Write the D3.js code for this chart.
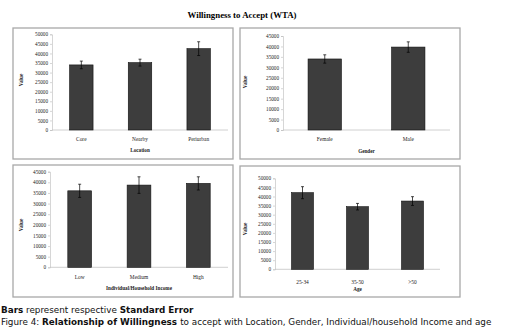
<!DOCTYPE html>
<html><head><meta charset="utf-8">
<script src="https://cdn.jsdelivr.net/npm/d3@7"></script>
<style>body{margin:0;background:#fff}svg{display:block}</style>
</head><body>
<svg id="c" width="505" height="328"></svg>
<script>
// ---- data ----
const locationCats = ["Core", "Nearby", "Periurban"];
const locationVals = [34000, 35200, 42500];
const locationErr = [2000, 1800, 3600];
const locationTicks = [0,5000,10000,15000,20000,25000,30000,35000,40000,45000,50000];

const genderCats = ["Female", "Male"];
const genderVals = [34000, 39700];
const genderErr = [2000, 2500];
const genderTicks = [0,5000,10000,15000,20000,25000,30000,35000,40000,45000];

const incomeCats = ["Low", "Medium", "High"];
const incomeVals = [36000, 38700, 39500];
const incomeErr = [3100, 3900, 3100];
const incomeTicks = [0,5000,10000,15000,20000,25000,30000,35000,40000,45000];

const ageCats = ["25-34", "35-50", ">50"];
const ageVals = [42100, 34400, 37500];
const ageErr = [3300, 1800, 2400];
const ageTicks = [0,5000,10000,15000,20000,25000,30000,35000,40000,45000,50000];

const titleText = "Willingness to Accept (WTA)";
const note1a = "Bars";
const note1 = " represent respective ";
const note1b = "Standard Error";
const note2a = "Figure 4: ";
const note2b = "Relationship of Willingness ";
const note2c = " to accept with Location, Gender, Individual/household  Income and age";

// ---- layout ----
const panels = [
  {cats: locationCats, vals: locationVals, err: locationErr, ticks: locationTicks, xTitle: "Location",
   box: [13, 28, 220, 131], x: [52, 228], y: [130, 34.3], catY: 141, titleY: 152, valX: 23, valY: 80},
  {cats: genderCats, vals: genderVals, err: genderErr, ticks: genderTicks, xTitle: "Gender",
   box: [240, 28, 220, 131], x: [283, 450], y: [130, 36], catY: 141, titleY: 153, valX: 247, valY: 82},
  {cats: incomeCats, vals: incomeVals, err: incomeErr, ticks: incomeTicks, xTitle: "Individual/Household Income",
   box: [13, 165, 220, 132], x: [50, 228], y: [267.3, 171.7], catY: 279, titleY: 290, valX: 23, valY: 225},
  {cats: ageCats, vals: ageVals, err: ageErr, ticks: ageTicks, xTitle: "Age",
   box: [240, 166, 220, 131], x: [275, 440], y: [269.3, 178.3], catY: 284, titleY: 291, valX: 247, valY: 229}
];

const svg = d3.select("#c");
const serif = "'Liberation Serif', 'DejaVu Serif', serif";
const sans = "'DejaVu Sans', Verdana, sans-serif";

svg.append("text").attr("x", 242).attr("y", 18).attr("text-anchor", "middle")
  .attr("font-family", serif).attr("font-weight", "bold").attr("font-size", 8.8).text(titleText);

panels.forEach(p => {
  const g = svg.append("g");
  g.append("rect").attr("x", p.box[0]).attr("y", p.box[1]).attr("width", p.box[2]).attr("height", p.box[3])
    .attr("fill", "#fff").attr("stroke", "#a8a8a8").attr("stroke-width", 1.3);
  const max = p.ticks[p.ticks.length - 1];
  const y = d3.scaleLinear().domain([0, max]).range(p.y);
  const x = d3.scalePoint().domain(p.cats).range(p.x).padding(0.5);
  const bw = x.step() * 0.4;

  // y axis
  const ya = g.append("g").attr("transform", `translate(${p.x[0]},0)`)
    .call(d3.axisLeft(y).tickValues(p.ticks).tickSize(2).tickPadding(2).tickFormat(d3.format("d")));
  ya.select(".domain").attr("stroke", "#bbb").attr("stroke-width", 0.6);
  ya.selectAll(".tick line").attr("stroke", "#bbb").attr("stroke-width", 0.6);
  ya.selectAll("text").attr("font-family", serif).attr("font-size", 5.2).attr("fill", "#222");

  // x axis line
  g.append("line").attr("x1", p.x[0]).attr("x2", p.x[1]).attr("y1", y(0)).attr("y2", y(0))
    .attr("stroke", "#c4c4c4").attr("stroke-width", 0.8);

  // bars
  g.selectAll("rect.bar").data(p.vals).join("rect").attr("class", "bar")
    .attr("x", (d, i) => x(p.cats[i]) - bw / 2).attr("width", bw)
    .attr("y", d => y(d)).attr("height", d => y(0) - y(d))
    .attr("fill", "#3d3d3d").attr("stroke", "#111").attr("stroke-width", 0.6);

  // error bars
  const eg = g.selectAll("g.err").data(p.vals).join("g").attr("class", "err");
  eg.append("line").attr("x1", (d, i) => x(p.cats[i])).attr("x2", (d, i) => x(p.cats[i]))
    .attr("y1", (d, i) => y(d + p.err[i])).attr("y2", (d, i) => y(d - p.err[i]))
    .attr("stroke", "#000").attr("stroke-width", 0.7);
  [1, -1].forEach(s => {
    eg.append("line").attr("x1", (d, i) => x(p.cats[i]) - 1.5).attr("x2", (d, i) => x(p.cats[i]) + 1.5)
      .attr("y1", (d, i) => y(d + s * p.err[i])).attr("y2", (d, i) => y(d + s * p.err[i]))
      .attr("stroke", "#000").attr("stroke-width", 0.7);
  });

  // category labels
  g.selectAll("text.cat").data(p.cats).join("text").attr("class", "cat")
    .attr("x", d => x(d)).attr("y", p.catY).attr("text-anchor", "middle")
    .attr("font-family", serif).attr("font-size", 5.4).attr("fill", "#222").text(d => d);

  // axis titles
  g.append("text").attr("x", (p.x[0] + p.x[1]) / 2).attr("y", p.titleY).attr("text-anchor", "middle")
    .attr("font-family", serif).attr("font-weight", "bold").attr("font-size", 5.2).attr("fill", "#222").text(p.xTitle);
  g.append("text").attr("transform", `translate(${p.valX},${p.valY}) rotate(-90)`).attr("text-anchor", "middle")
    .attr("font-family", serif).attr("font-weight", "bold").attr("font-size", 5.2).attr("fill", "#222").text("Value");
});

// caption
const t1 = svg.append("text").attr("x", 1).attr("y", 313).attr("font-family", sans).attr("font-size", 8.8).attr("fill", "#111");
t1.append("tspan").attr("font-weight", "bold").text(note1a);
t1.append("tspan").text(note1);
t1.append("tspan").attr("font-weight", "bold").text(note1b);

const t2 = svg.append("text").attr("x", 1).attr("y", 324.5).attr("font-family", sans).attr("font-size", 8.8).attr("fill", "#111");
t2.append("tspan").text(note2a);
t2.append("tspan").attr("font-weight", "bold").text(note2b);
t2.append("tspan").text(note2c);
</script>
</body></html>
